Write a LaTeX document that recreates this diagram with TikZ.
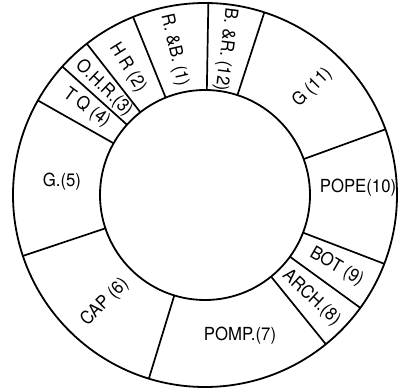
\documentclass[tikz,border=0pt]{standalone}
\usepackage{fontspec}
\setmainfont{TeX Gyre Heros}
\newfontfamily\labelfont[FakeStretch=0.93]{TeX Gyre Heros}
\usetikzlibrary{positioning}
\tikzset{
  ring/.style={line width=1.8pt},
  divider/.style={line width=1.7pt},
  seglabel/.style={font=\labelfont\fontsize{18}{18}\selectfont, inner sep=0pt}
}
\begin{document}
\begin{tikzpicture}
  \useasboundingbox (-205pt,-196pt) rectangle (196pt,195pt);

  % Rings
  \draw[ring] (0,0) circle (192pt);
  \draw[ring] (0,0) circle (105pt);

  % Dividers
  \foreach \a in {89, 72, 20, -21, -36, -51, -107, -161.5, 150.5, 138, 128, 112} {
    \draw[divider] (\a:105pt) -- (\a:192pt);
  }

  % Labels
  \node[seglabel, rotate=-77] (rb1)    at (102:148pt)     {R. \&B. (1)};
  \node[seglabel, rotate=-97] (br12)   at (82:147pt)      {B. \&R. (12)};
  \node[seglabel, rotate=45]  (g11)    at (45:152pt)      {G (11)};
  \node[seglabel]             (pope10) at (153pt,7pt)     {POPE(10)};
  \node[seglabel, rotate=-30] (bot9)   at (-28.6:150pt)   {BOT (9)};
  \node[seglabel, rotate=-43] (arch8)  at (-44:148pt)     {ARCH.(8)};
  \node[seglabel]             (pomp7)  at (35pt,-141pt)   {POMP.(7)};
  \node[seglabel, rotate=45]  (cap6)   at (227:147pt)     {CAP (6)};
  \node[seglabel]             (g5)     at (-143pt,13pt)   {G.(5)};
  \node[seglabel, rotate=-36] (tq4)    at (143.6:147pt)   {T Q (4)};
  \node[seglabel, rotate=-44] (ohr3)   at (133.4:147pt)   {O.H.R.(3)};
  \node[seglabel, rotate=-58] (hr2)    at (121.3:149pt)   {H R (2)};
\end{tikzpicture}
\end{document}
